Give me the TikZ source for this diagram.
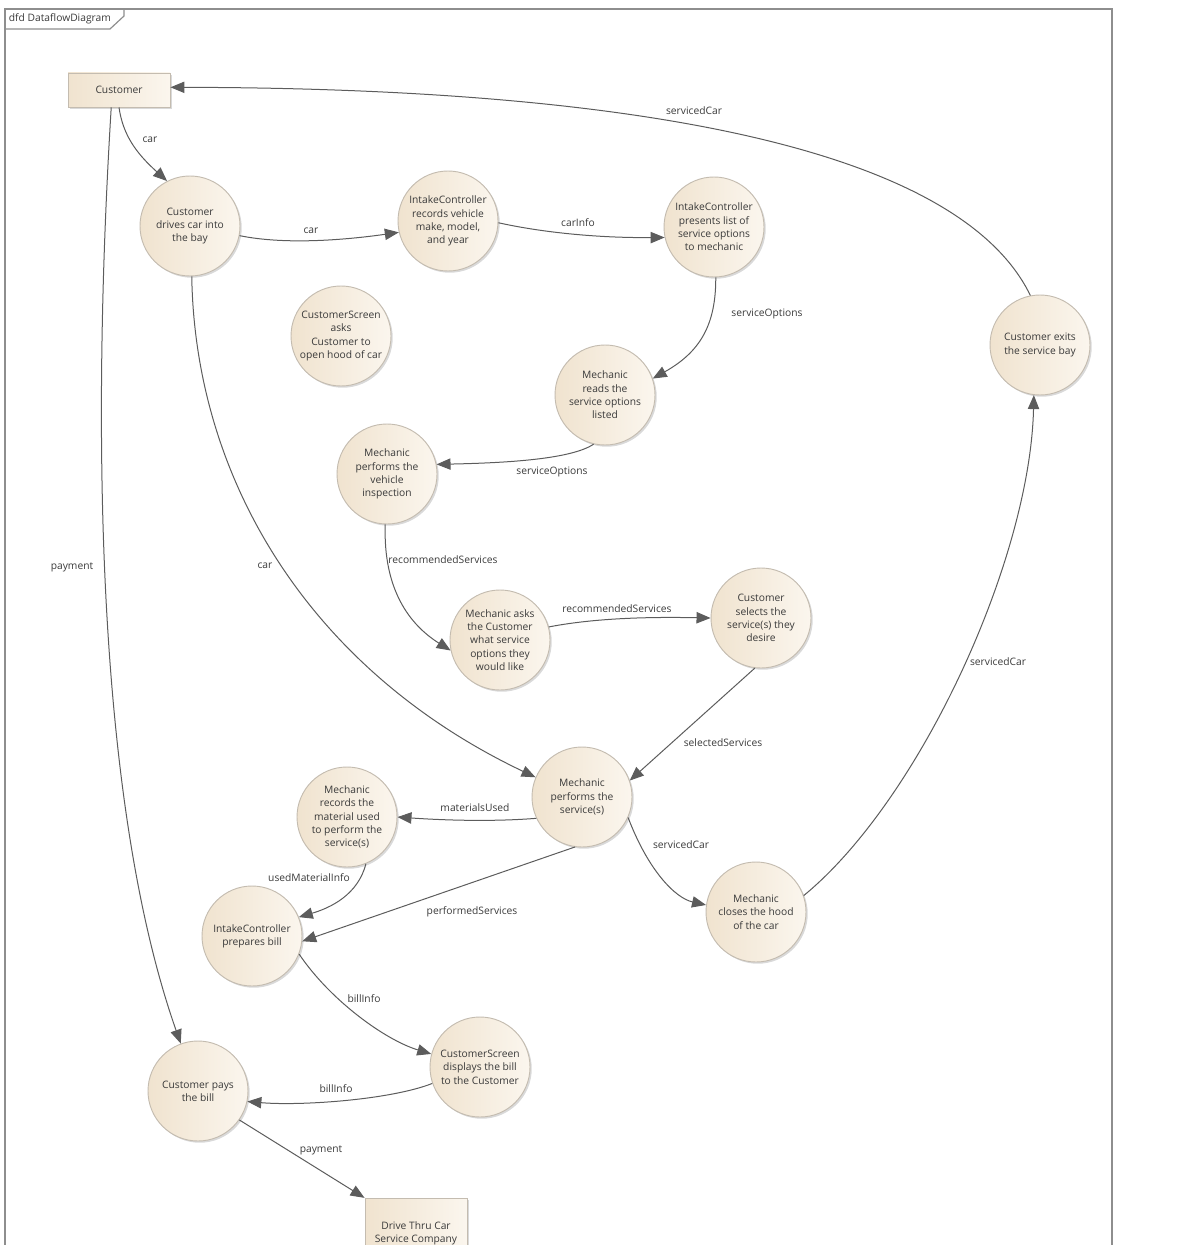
\documentclass[tikz,border=0pt]{standalone}
\usepackage{fontspec}
\setmainfont{Open Sans}
\usetikzlibrary{arrows.meta,shadows}

\definecolor{ink}{HTML}{3A3A3A}
\definecolor{wire}{HTML}{5C5C5C}
\definecolor{creamL}{HTML}{F0E3CF}
\definecolor{creamR}{HTML}{FBF6EE}
\definecolor{rim}{HTML}{C4BCB0}
\definecolor{framec}{HTML}{8E8E8E}

\tikzset{
  proc/.style={circle, minimum size=75pt, inner sep=0pt, align=center,
    font=\fontsize{7.7}{10}\selectfont, text=ink, draw=rim, line width=0.7pt,
    left color=creamL, right color=creamR,
    drop shadow={opacity=0.3, shadow xshift=1.3pt, shadow yshift=-1.3pt}},
  ent/.style={rectangle, minimum width=76.5pt, inner sep=0pt, align=center,
    font=\fontsize{7.7}{10}\selectfont, text=ink, draw=rim, line width=0.7pt,
    left color=creamL, right color=creamR,
    drop shadow={opacity=0.3, shadow xshift=1.3pt, shadow yshift=-1.3pt}},
  flow/.style={draw=wire, line width=0.75pt, -{Triangle[length=10.5pt,width=8.5pt]}},
  lbl/.style={font=\fontsize{7.7}{9}\selectfont, text=ink, inner sep=0.5pt},
}

\begin{document}
\begin{tikzpicture}[x=0.75pt,y=-0.75pt]
\path[use as bounding box, clip] (0,0) rectangle (1197,1245);

% diagram frame with its name tab
\draw[framec, line width=1.1pt] (5,9) rectangle (1112,1270);
\draw[framec, line width=0.9pt] (5,29) -- (110,29) -- (124,16) -- (124,9);
\node[lbl, anchor=west] (title) at (8,19) {dfd DataflowDiagram};

% external entities
\node[ent, minimum height=25.5pt] (cust) at (119,90) {Customer};
\node[ent, minimum height=52pt] (drive) at (416,1233) {Drive Thru Car\\Service Company};

% processes
\node[proc] (c1) at (190,226) {Customer\\drives car into\\the bay};
\node[proc] (c2) at (448,221) {IntakeController\\records vehicle\\make, model,\\and year};
\node[proc] (c3) at (714,227) {IntakeController\\presents list of\\service options\\to mechanic};
\node[proc] (c4) at (341,336) {CustomerScreen\\asks\\Customer to\\open hood of car};
\node[proc] (c5) at (605,395) {Mechanic\\reads the\\service options\\listed};
\node[proc] (c6) at (387,474) {Mechanic\\performs the\\vehicle\\inspection};
\node[proc] (c7) at (500,640) {Mechanic asks\\the Customer\\what service\\options they\\would like};
\node[proc] (c8) at (761,618) {Customer\\selects the\\service(s) they\\desire};
\node[proc] (c9) at (582,797) {Mechanic\\performs the\\service(s)};
\node[proc] (c10) at (347,817) {Mechanic\\records the\\material used\\to perform the\\service(s)};
\node[proc] (c11) at (252,936) {IntakeController\\prepares bill};
\node[proc] (c12) at (480,1067) {CustomerScreen\\displays the bill\\to the Customer};
\node[proc] (c13) at (198,1091) {Customer pays\\the bill};
\node[proc] (c14) at (756,912) {Mechanic\\closes the hood\\of the car};
\node[proc] (c15) at (1040,345) {Customer exits\\the service bay};

% data flows
\draw[flow] (cust.south) .. controls (123,135) and (136,153) .. (c1.117);
\draw[flow] (c1.349) .. controls (285,245) and (345,240) .. (c2.193);
\draw[flow] (c2.358) .. controls (540,232) and (595,238) .. (c3.192);
\draw[flow] (c3.272) .. controls (716,325) and (700,352) .. (c5.19);
\draw[flow] (c5.257) .. controls (570,460) and (500,463) .. (c6.11);
\draw[flow] (c6.268) .. controls (383,590) and (410,625) .. (c7.192);
\draw[flow] (c7.15) .. controls (600,617) and (660,617) .. (c8.180);
\draw[flow] (c8.263) -- (c9.19);
\draw[flow] (c1.272) .. controls (195,480) and (310,670) .. (c9.157);
\draw[flow] (c9.205) .. controls (490,822) and (440,820) .. (c10.0);
\draw[flow] (c10.292) .. controls (358,895) and (330,908) .. (c11.22);
\draw[flow] (c9.262) -- (c11.354);
\draw[flow] (c9.336) .. controls (648,870) and (675,898) .. (c14.172);
\draw[flow] (c14.19) .. controls (920,800) and (1030,560) .. (c15.263);
\draw[flow] (c15.101) .. controls (950,130) and (560,88) .. (cust.3);
\draw[flow] (c11.339) .. controls (330,1000) and (385,1040) .. (c12.165);
\draw[flow] (c12.199) .. controls (390,1100) and (300,1106) .. (c13.348);
\draw[flow] (c13.325) -- (drive.north west);
\draw[flow] (cust.246) .. controls (92,420) and (95,800) .. (c13.110);

% flow labels
\node[lbl] (f1) at (150,140) {car};
\node[lbl] (f2) at (311,231) {car};
\node[lbl] (f3) at (578,223) {carInfo};
\node[lbl] (f4) at (767,314) {serviceOptions};
\node[lbl] (f5) at (552,472) {serviceOptions};
\node[lbl] (f6) at (443,560) {recommendedServices};
\node[lbl] (f7) at (617,609) {recommendedServices};
\node[lbl] (f8) at (723,743) {selectedServices};
\node[lbl] (f9) at (265,566) {car};
\node[lbl] (f10) at (475,808) {materialsUsed};
\node[lbl] (f11) at (309,878) {usedMaterialInfo};
\node[lbl] (f12) at (472,912) {performedServices};
\node[lbl] (f13) at (681,845) {servicedCar};
\node[lbl] (f14) at (998,662) {servicedCar};
\node[lbl] (f15) at (694,111) {servicedCar};
\node[lbl] (f16) at (364,999) {billInfo};
\node[lbl] (f17) at (336,1089) {billInfo};
\node[lbl] (f18) at (321,1150) {payment};
\node[lbl] (f19) at (72,567) {payment};
\end{tikzpicture}
\end{document}
